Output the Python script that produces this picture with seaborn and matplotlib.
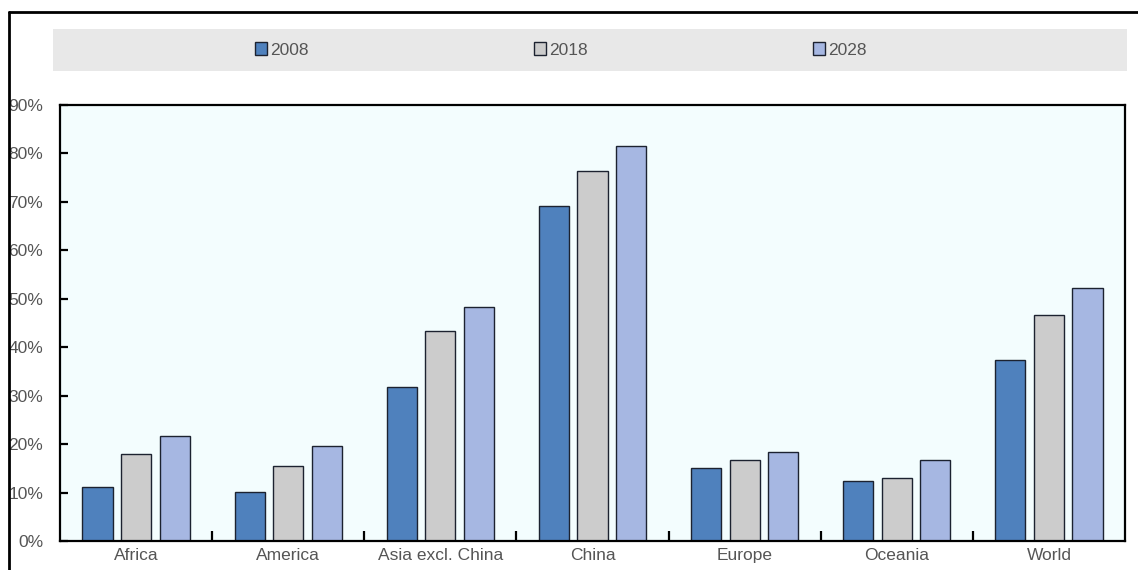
import matplotlib
matplotlib.use("Agg")
import matplotlib.pyplot as plt
from matplotlib.patches import Rectangle
from matplotlib.lines import Line2D
from matplotlib.ticker import FixedLocator
import seaborn as sns
import pandas as pd

regions = ["Africa", "America", "Asia excl. China", "China", "Europe", "Oceania", "World"]
years = ["2008", "2018", "2028"]
v2008 = [11.2, 10.1, 31.7, 69.1, 15.0, 12.4, 37.3]
v2018 = [17.9, 15.5, 43.4, 76.3, 16.8, 13.1, 46.6]
v2028 = [21.6, 19.7, 48.4, 81.6, 18.4, 16.8, 52.2]
colors = ["#4f81bd", "#cccccc", "#a6b7e2"]

rows = []
for yr, vals in zip(years, [v2008, v2018, v2028]):
    for r, v in zip(regions, vals):
        rows.append({"region": r, "year": yr, "value": v})
df = pd.DataFrame(rows)

sns.set_style("white")
plt.rcParams["font.family"] = ["Liberation Sans", "DejaVu Sans"]

W, H = 1138, 570
fig = plt.figure(figsize=(W / 100, H / 100), dpi=100)
ax = fig.add_axes([60 / W, 1 - 541 / H, (1125 - 60) / W, (541 - 105) / H])
ax.set_facecolor("#f3fdfe")

sns.barplot(data=df, x="region", y="value", hue="year", order=regions,
            hue_order=years, palette=colors, saturation=1, width=0.76, gap=0.22,
            edgecolor="#1c2230", linewidth=1.0, ax=ax, legend=False)

ax.set_xlim(-0.5, len(regions) - 0.5)
ax.set_ylim(0, 90)
ax.set_yticks(range(0, 91, 10))
ax.set_yticklabels([f"{t}%" for t in range(0, 91, 10)])
ax.set_xlabel("")
ax.set_ylabel("")

for s in ax.spines.values():
    s.set_visible(True)
    s.set_color("black")
    s.set_linewidth(1.6)

ax.tick_params(axis="y", direction="in", length=6, width=1.6, color="black",
               labelsize=12.5, labelcolor="#555555", pad=12, left=True)
ax.tick_params(axis="x", which="major", length=0, labelsize=12.5,
               labelcolor="#555555", pad=5)
ax.xaxis.set_minor_locator(FixedLocator([i + 0.5 for i in range(len(regions) - 1)]))
ax.tick_params(axis="x", which="minor", direction="in", length=7, width=1.6,
               color="black", bottom=True)

# legend band
fig.add_artist(Rectangle((53 / W, 1 - 71 / H), (1127 - 53) / W, 42 / H,
                         transform=fig.transFigure, facecolor="#e8e8e8",
                         edgecolor="none", zorder=0))
handles = [Rectangle((0, 0), 1, 1, facecolor=c, edgecolor="#1c2230", linewidth=1.0)
           for c in colors]
fig.legend(handles, years, loc="center", bbox_to_anchor=(561 / W, 1 - 50 / H),
           ncol=3, frameon=False, fontsize=12.5, labelcolor="#555555",
           handlelength=0.7, handleheight=0.7, handletextpad=0.2,
           columnspacing=12.95)

# outer frame
fig.add_artist(Line2D([9 / W, 9 / W], [0, 1 - 12 / H], transform=fig.transFigure,
                      color="black", linewidth=2))
fig.add_artist(Line2D([9 / W, 1], [1 - 12 / H, 1 - 12 / H], transform=fig.transFigure,
                      color="black", linewidth=2))

fig.savefig("out.png", dpi=100, facecolor="white")
